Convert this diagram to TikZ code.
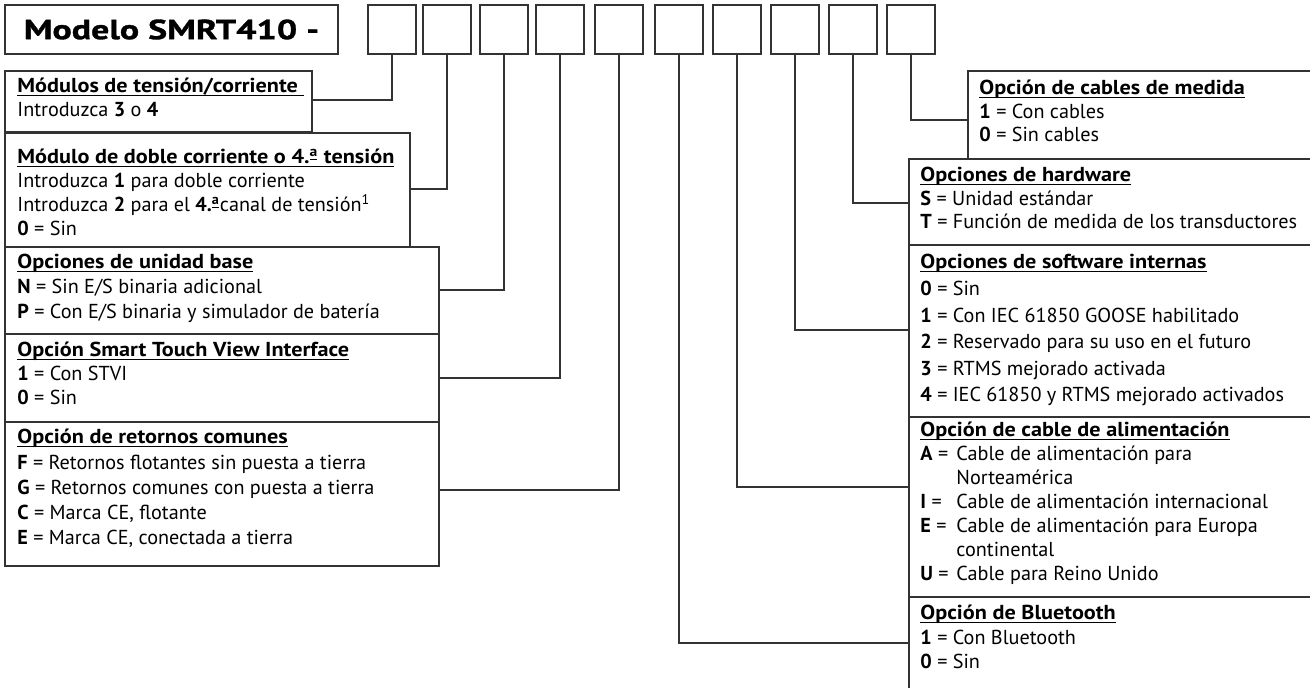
\documentclass[tikz,border=0pt]{standalone}
\usepackage{fontspec}
\setmainfont{PT Sans}
\newfontfamily\headfont{PT Sans}[FakeStretch=1.1]
\newfontfamily\modelfont{PT Sans}[FakeStretch=1.3, FakeBold=1.2]
\usetikzlibrary{fit}

\newsavebox{\headbox}
\newcommand{\opthead}[1]{\sbox{\headbox}{\headfont\bfseries #1}\rlap{\rule[-1.6pt]{\wd\headbox}{0.6pt}}\usebox{\headbox}}
\newcommand{\optsize}[1]{\fontsize{10.1pt}{#1pt}\selectfont}
\newcommand{\lbl}[1]{\makebox[18pt][l]{\textbf{#1} =}}

\begin{document}
\begin{tikzpicture}[x=0.5pt, y=-0.5pt]
\tikzset{frame/.style={draw=black!80, line width=0.7pt, inner sep=0pt},
  digit/.style={frame, minimum width=24pt, minimum height=24.5pt},
  opttext/.style={anchor=north west, align=left, inner sep=0pt, execute at begin node=\rule{0pt}{10pt}},
  link/.style={draw=black!80, line width=0.6pt}}
\useasboundingbox (0,0) rectangle (1310,687);

% model number and the ten option digits
\node[frame, minimum width=166.5pt, minimum height=24.5pt, font=\fontsize{13.8pt}{16pt}\modelfont\bfseries] (model) at (171.5,29.5) {Modelo SMRT410 -};
\foreach \x [count=\i] in {368,423,480,536,595,655,713,771,829,887}
  \node[digit] (d\i) at (\x+24,29.5) {};

% left-hand options
\node[frame, fit={(5,71) (312,132)}] (modbox) {};
\node[frame, fit={(5,133) (410,247)}] (dobbox) {};
\node[frame, fit={(5,247) (439,334)}] (basebox) {};
\node[frame, fit={(5,334) (439,422)}] (stvibox) {};
\node[frame, fit={(5,422) (439,566)}] (retbox) {};

\node[opttext, font=\optsize{12}] (modtxt) at (17,78) {\opthead{Módulos de tensión/corriente\hspace{3pt}}\\
  Introduzca \textbf{3} o \textbf{4}};
\node[opttext, font=\optsize{11.85}] (dobtxt) at (17,149) {\opthead{Módulo de doble corriente o 4.\textsuperscript{\underline{a}} tensión}\\
  Introduzca \textbf{1} para doble corriente\\
  Introduzca \textbf{2} para el \textbf{4.\textsuperscript{\underline{a}}}canal de tensión\textsuperscript{1}\\
  \textbf{0} = Sin};
\node[opttext, font=\optsize{12.5}] (basetxt) at (17,254) {\opthead{Opciones de unidad base}\\
  \textbf{N} = Sin E/S binaria adicional\\
  \textbf{P} = Con E/S binaria y simulador de batería};
\node[opttext, font=\optsize{12}] (stvitxt) at (17,342) {\opthead{Opción Smart Touch View Interface}\\
  \textbf{1} = Con STVI\\
  \textbf{0} = Sin};
\node[opttext, font=\optsize{12.6}] (rettxt) at (17,429) {\opthead{Opción de retornos comunes}\\
  \textbf{F} = Retornos flotantes sin puesta a tierra\\
  \textbf{G} = Retornos comunes con puesta a tierra\\
  \textbf{C} = Marca CE, flotante\\
  \textbf{E} = Marca CE, conectada a tierra};

% right-hand options
\node[frame, fit={(968,71) (1316,159)}] (cabbox) {};
\node[frame, fit={(909,159) (1316,245)}] (hwbox) {};
\node[frame, fit={(909,245) (1316,417)}] (swbox) {};
\node[frame, fit={(909,417) (1316,597)}] (pwbox) {};
\node[frame, fit={(909,597) (1316,700)}] (btbox) {};

\node[opttext, font=\optsize{11.75}] (cabtxt) at (979,80) {\opthead{Opción de cables de medida}\\
  \textbf{1} = Con cables\\
  \textbf{0} = Sin cables};
\node[opttext, font=\optsize{11.75}] (hwtxt) at (920,167) {\opthead{Opciones de hardware}\\
  \textbf{S} = Unidad estándar\\
  \textbf{T} = Función de medida de los transductores};
\node[opttext, font=\optsize{13.3}] (swtxt) at (920,254) {\opthead{Opciones de software internas}\\
  \textbf{0} = Sin\\
  \textbf{1} = Con IEC 61850 GOOSE habilitado\\
  \textbf{2} = Reservado para su uso en el futuro\\
  \textbf{3} = RTMS mejorado activada\\
  \textbf{4} = IEC 61850 y RTMS mejorado activados};
\node[opttext, font=\optsize{12}] (pwtxt) at (920,422) {\opthead{Opción de cable de alimentación}\\
  \lbl{A}Cable de alimentación para\\
  \hspace*{18pt}Norteamérica\\
  \lbl{I}Cable de alimentación internacional\\
  \lbl{E}Cable de alimentación para Europa\\
  \hspace*{18pt}continental\\
  \lbl{U}Cable para Reino Unido};
\node[opttext, font=\optsize{12.25}] (bttxt) at (920,605) {\opthead{Opción de Bluetooth}\\
  \textbf{1} = Con Bluetooth\\
  \textbf{0} = Sin};

% where each digit line meets its box
\coordinate (in1) at (312,100);
\coordinate (in2) at (410,189);
\coordinate (in3) at (439,290);
\coordinate (in4) at (439,378);
\coordinate (in5) at (439,490);
\coordinate (in6) at (909,643);
\coordinate (in7) at (909,487);
\coordinate (in8) at (909,330);
\coordinate (in9) at (909,203);
\coordinate (in10) at (968,120);
\foreach \i in {1,...,10}
  \draw[link] (d\i.south) |- (in\i);
\end{tikzpicture}
\end{document}
